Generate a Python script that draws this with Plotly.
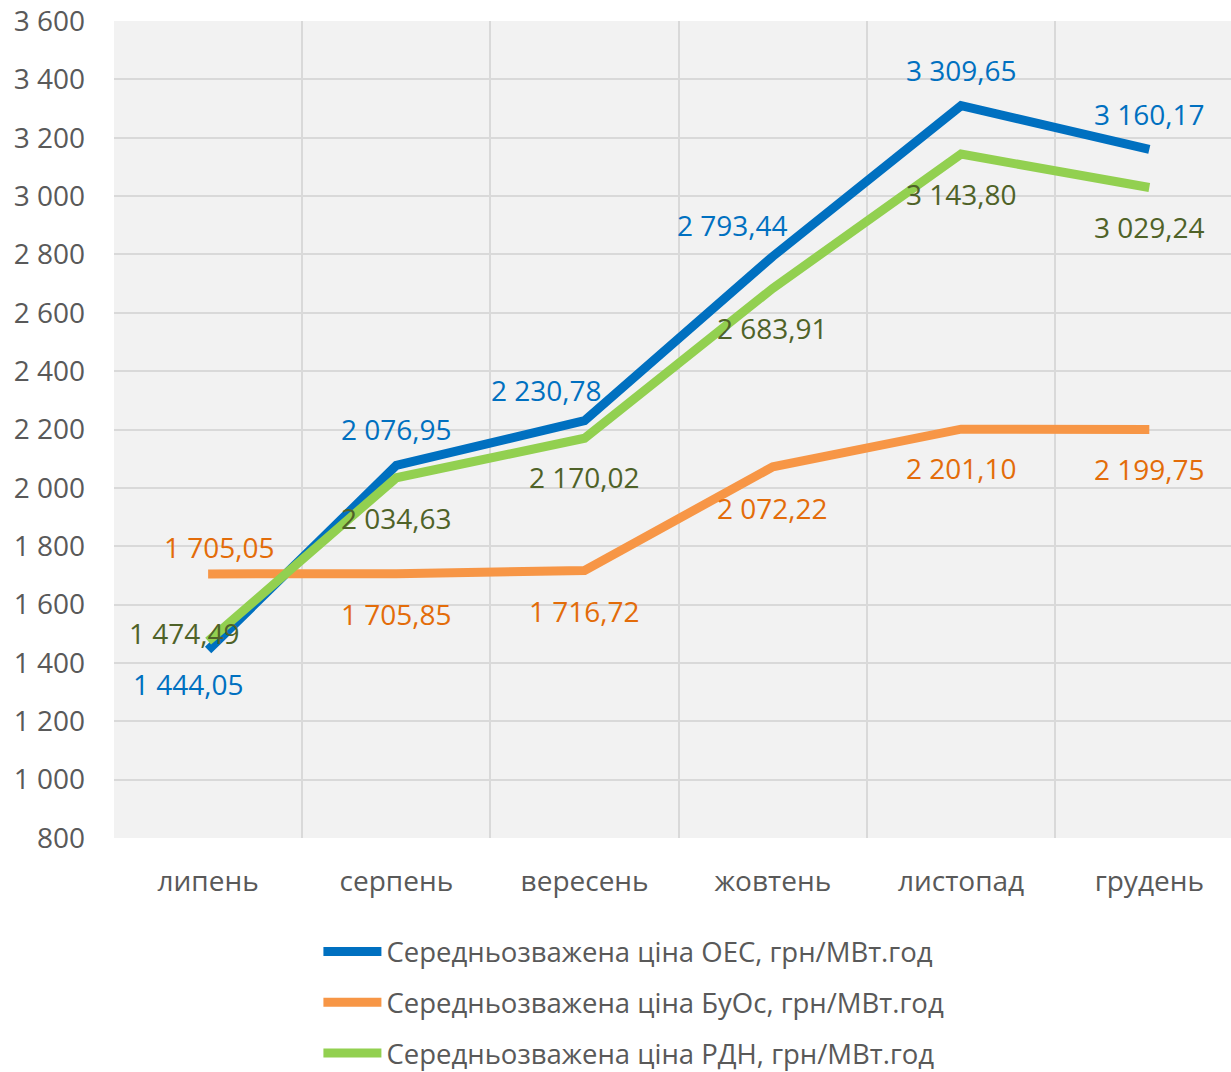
import plotly.graph_objects as go

months = ["липень", "серпень", "вересень", "жовтень", "листопад", "грудень"]
oes = [1444.05, 2076.95, 2230.78, 2793.44, 3309.65, 3160.17]
buos = [1705.05, 1705.85, 1716.72, 2072.22, 2201.10, 2199.75]
rdn = [1474.49, 2034.63, 2170.02, 2683.91, 3143.80, 3029.24]
names = [
    "Середньозважена ціна ОЕС, грн/МВт.год",
    "Середньозважена ціна БуОс, грн/МВт.год",
    "Середньозважена ціна РДН, грн/МВт.год",
]
y_ticks = list(range(800, 3601, 200))

# label offsets in pixels (dx, dy) - styling only
oes_off = [(-20, 34), (0, -36), (-38, -31), (-40, -31), (0, -36), (0, -35)]
buos_off = [(11, -27), (0, 40), (0, 40), (0, 41), (0, 39), (0, 39)]
rdn_off = [(-24, -8), (0, 40), (0, 39), (0, 40), (0, 40), (0, 39)]

line_colors = ["#0070C0", "#F79646", "#92D050"]
label_colors = ["#0070C0", "#E36C09", "#4F6228"]
FONT = "Open Sans"
FS = 28


def fmt(v):
    return f"{v:,.2f}".replace(",", " ").replace(".", ",")


fig = go.Figure()
series = [oes, buos, rdn]
offsets = [oes_off, buos_off, rdn_off]
for i, (vals, nm) in enumerate(zip(series, names)):
    fig.add_trace(go.Scatter(
        x=months, y=vals, mode="lines", name=nm,
        line=dict(color=line_colors[i], width=9),
        legendgroup=f"g{i}",
    ))

annotations = []
for i, vals in enumerate(series):
    for m, v, (dx, dy) in zip(months, vals, offsets[i]):
        annotations.append(dict(
            x=m, y=v, xref="x", yref="y", text=fmt(v), showarrow=False,
            xshift=dx, yshift=-dy,
            font=dict(family=FONT, size=FS, color=label_colors[i]),
        ))

fig.update_layout(
    width=1231, height=1072,
    margin=dict(l=114, r=0, t=21, b=234, autoexpand=False),
    paper_bgcolor="white", plot_bgcolor="#F2F2F2",
    separators=", ",
    font=dict(family=FONT, size=FS, color="#595959"),
    annotations=annotations,
    showlegend=True,
    legend=dict(
        orientation="v", x=0.183, xanchor="left", y=-0.109, yanchor="top",
        traceorder="grouped", tracegroupgap=12, itemwidth=58,
        font=dict(family=FONT, size=27.5, color="#595959"),
        bgcolor="rgba(0,0,0,0)",
    ),
    xaxis=dict(
        type="category", range=[-0.5, 5.434], tickson="boundaries",
        showgrid=True, gridcolor="#D9D9D9", gridwidth=1.5,
        showline=False, zeroline=False, ticks="", automargin=False,
        ticklabelstandoff=24,
        tickfont=dict(family=FONT, size=FS, color="#595959"),
    ),
    yaxis=dict(
        range=[800, 3600], tickvals=y_ticks, tickformat=",d",
        showgrid=True, gridcolor="#D9D9D9", gridwidth=1.5,
        showline=False, zeroline=False, ticks="", automargin=False,
        ticklabelstandoff=28, ticklabeloverflow="allow",
        tickfont=dict(family=FONT, size=FS, color="#595959"),
    ),
)

fig.write_html(
    "out.html",
    config={"displayModeBar": False},
    post_script="document.body.style.margin='0px';document.body.style.overflow='hidden';",
)
